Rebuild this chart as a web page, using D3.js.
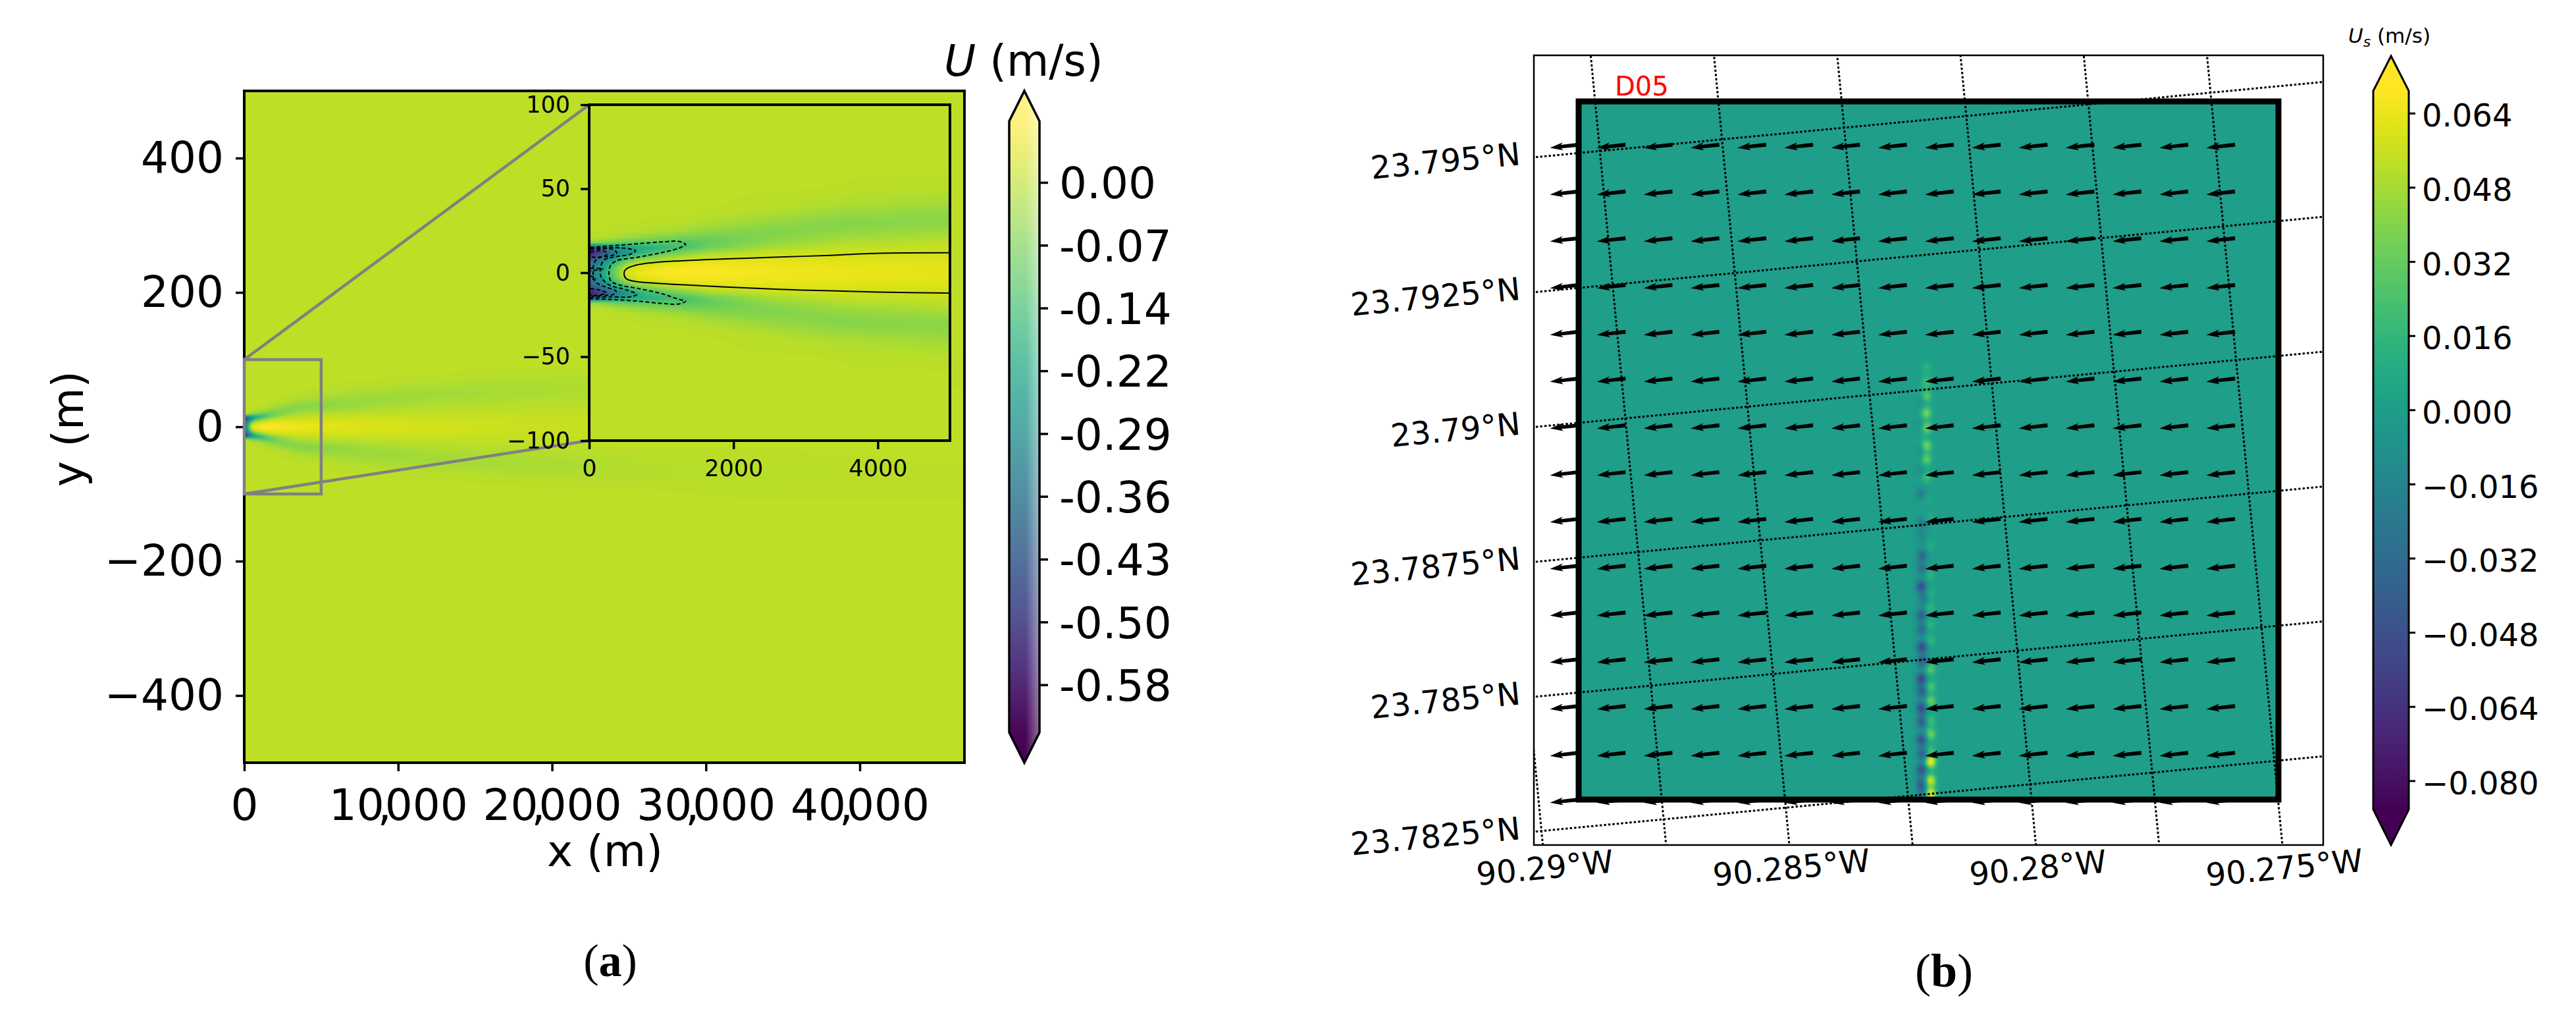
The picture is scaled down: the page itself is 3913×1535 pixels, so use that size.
<!DOCTYPE html>
<html>
<head>
<meta charset="utf-8">
<script src="https://d3js.org/d3.v7.min.js"></script>
<style>
body { margin: 0; background: white; }
text { font-family: "DejaVu Sans", sans-serif; fill: black; }
</style>
</head>
<body>
<div id="chart"></div>
<script>
// panel (a) wake field. rows follow wakeX, columns follow wakeY (|y|)
const wakeX = [0, 60, 150, 300, 500, 700, 1000, 1300, 1700, 2500, 3500, 5000, 8000, 12000, 18000, 25000, 32000, 46800];
const wakeY = [0, 3, 6, 9, 12, 15, 18, 21, 25, 30, 35, 40, 50, 60, 70, 80, 90, 100, 125];
const wakeU = [
  [-.30, -.32, -.38, -.50, -.60, -.45, -.04, -.002, 0, 0, 0, 0, 0, 0, 0, 0, 0, 0, 0],
  [-.30, -.31, -.36, -.46, -.56, -.42, -.05, -.003, 0, 0, 0, 0, 0, 0, 0, 0, 0, 0, 0],
  [-.26, -.27, -.31, -.40, -.50, -.36, -.06, -.005, 0, 0, 0, 0, 0, 0, 0, 0, 0, 0, 0],
  [-.12, -.14, -.20, -.28, -.38, -.28, -.08, -.015, -.001, 0, 0, 0, 0, 0, 0, 0, 0, 0, 0],
  [.02, 0, -.07, -.16, -.27, -.23, -.10, -.03, -.004, 0, 0, 0, 0, 0, 0, 0, 0, 0, 0],
  [.05, .04, 0, -.09, -.18, -.20, -.11, -.045, -.008, -.001, 0, 0, 0, 0, 0, 0, 0, 0, 0],
  [.065, .055, .02, -.04, -.12, -.17, -.115, -.06, -.015, -.002, 0, 0, 0, 0, 0, 0, 0, 0, 0],
  [.068, .062, .04, -.005, -.07, -.135, -.12, -.075, -.025, -.004, 0, 0, 0, 0, 0, 0, 0, 0, 0],
  [.066, .062, .046, .02, -.025, -.08, -.095, -.08, -.048, -.016, -.003, 0, 0, 0, 0, 0, 0, 0, 0],
  [.058, .055, .045, .03, .008, -.02, -.045, -.06, -.063, -.04, -.015, -.003, 0, 0, 0, 0, 0, 0, 0],
  [.05, .047, .04, .03, .017, .004, -.012, -.03, -.05, -.058, -.04, -.016, -.001, 0, 0, 0, 0, 0, 0],
  [.042, .04, .035, .026, .018, .01, .001, -.012, -.032, -.052, -.05, -.03, -.006, 0, 0, 0, 0, 0, 0],
  [.032, .031, .028, .023, .017, .011, .005, -.002, -.012, -.024, -.033, -.037, -.024, -.006, 0, 0, 0, 0, 0],
  [.023, .022, .021, .018, .015, .011, .007, .003, -.002, -.009, -.016, -.023, -.03, -.017, -.004, 0, 0, 0, 0],
  [.014, .014, .013, .012, .011, .009, .007, .004, .001, -.003, -.007, -.012, -.02, -.022, -.012, -.003, 0, 0, 0],
  [.008, .008, .007, .007, .006, .005, .004, .003, .001, 0, -.002, -.004, -.008, -.011, -.012, -.006, -.001, 0, 0],
  [.003, .003, .003, .003, .002, .002, .002, .001, 0, 0, -.001, -.001, -.002, -.004, -.005, -.005, -.002, -.001, 0],
  [.001, .001, .001, .001, .001, .001, 0, 0, 0, 0, 0, 0, 0, -.001, -.001, -.001, -.001, -.001, 0]
];

// contour lines of the inset, [x, y] in metres
const contourSolid = [[5000,11.9],[4020,11.6],[3266,10.2],[2632,9.3],[1839,8.1],[1284,7.1],[888,6],[650,4.5],[511,2.1],[484,0],[511,-3.5],[670,-5.4],[888,-6.2],[1284,-7.2],[1839,-8.4],[2632,-9.9],[3266,-10.7],[4020,-11.6],[5000,-12.2]];
const contoursDashed = [
  [[16,15],[333,16.1],[690,17.3],[1007,18.3],[1245,18.6],[1336,16.8],[1245,14.6],[1007,12],[690,9.3],[373,7],[293,4],[274,-.45],[301,-5],[412,-7.2],[690,-9.5],[1007,-12.5],[1245,-15.9],[1336,-17],[1245,-18.6],[1007,-18.3],[690,-17],[333,-16],[16,-15.5]],
  [[16,14.6],[492,14.6],[642,13],[571,11],[341,9.3],[206,7.5],[155,2.6],[166,-2.7],[274,-7.2],[511,-10.2],[658,-12.9],[571,-14.4],[293,-14.4],[16,-14.7]],
  [[16,13.8],[333,13.8],[381,11.6],[254,9.6],[115,8.6],[63,4.8],[55,-.45],[75,-5],[194,-8],[373,-11],[341,-12.9],[174,-13.5],[16,-14]],
  [[16,12.3],[194,13.1],[254,11],[135,9.3],[16,9.3]],
  [[16,-9.5],[155,-10.5],[234,-12],[115,-13.5],[16,-13.2]],
  [[16,2.6],[194,2.3],[16,1]],
  [[16,-2],[95,-3.5],[16,-4.2]]
];

const mainYTicks = [-400, -200, 0, 200, 400];
const mainXTicks = [0, 10000, 20000, 30000, 40000];
const insetYTicks = [-100, -50, 0, 50, 100];
const insetXTicks = [0, 2000, 4000];
const cbarATicks = [0, -0.0725, -0.145, -0.2175, -0.29, -0.3625, -0.435, -0.5075, -0.58];
const cbarALabels = ["0.00", "-0.07", "-0.14", "-0.22", "-0.29", "-0.36", "-0.43", "-0.50", "-0.58"];

// panel (b) map grid
const gridLats = [23.7825, 23.785, 23.7875, 23.79, 23.7925, 23.795];
const gridLatLabels = ["23.7825°N", "23.785°N", "23.7875°N", "23.79°N", "23.7925°N", "23.795°N"];
const gridLons = [90.29, 90.2875, 90.285, 90.2825, 90.28, 90.2775, 90.275];
const lonLabelled = [90.29, 90.285, 90.28, 90.275];
const lonLabels = ["90.29°W", "90.285°W", "90.28°W", "90.275°W"];
const cbarBTicks = [0.064, 0.048, 0.032, 0.016, 0, -0.016, -0.032, -0.048, -0.064, -0.08];

// quiver, tails in grid units of the D05 box (0..1000)
const quiverStations = [0, 67, 134, 201, 268, 335, 402, 469, 536, 603, 670, 737, 804, 871, 938];
const quiverU = -41;
const quiverV = -4.5;

// streak blobs along the line in D05, grid units and Us (m/s)
const streakX = [497,497,497,497,497,497,497,497,499,502,502,502,502,502,502,503,503,503,503,503,503,503,503,503,503,
  490.5,490.5,489.5,489.5,489.5,489.5,490.5,490.5,490.5,489.5,492.7,490,490,490.5,491,489.5,490.5,490,490,490,491,490,489.5,491];
const streakY = [618.7,598.1,577.6,553.8,532.7,506.7,487,462.3,431.2,403.8,362.6,321.5,294,273.5,250.6,227.7,186.6,161.4,140.8,113.4,93.7,70,54,27.4,8.2,
  570.7,536.4,499.8,472.4,438.1,394.6,376.4,349.8,331.5,305.5,287.2,264.3,243.7,218.6,198,172.9,154.6,130.8,111.1,86,65.4,42.5,22,8.2];
const streakU = [.012,.02,.03,.036,.038,.036,.03,.02,.006,.008,.008,.014,.012,.016,.014,.016,.028,.026,.034,.02,.034,.02,.066,.056,.066,
  -.01,-.01,-.01,-.01,-.02,-.024,-.012,-.032,-.028,-.05,-.024,-.04,-.032,-.05,-.04,-.052,-.04,-.052,-.04,-.048,-.04,-.048,-.04,-.025];

let svg = d3.select("#chart").append("svg")
  .attr("width", 3913)
  .attr("height", 1535)
  .style("display", "block");
let defs = svg.append("defs");

function paintField(xScale, yScale, valueAt, colour) {
  let [x0, x1] = xScale.range();
  let [y1, y0] = yScale.range();
  let w = Math.round(x1 - x0), h = Math.round(y1 - y0);
  let canvas = document.createElement("canvas");
  canvas.width = w;
  canvas.height = h;
  let ctx = canvas.getContext("2d");
  let img = ctx.createImageData(w, h);
  for (let j = 0; j < h; j++) {
    let yv = yScale.invert(y0 + j + 0.5);
    for (let i = 0; i < w; i++) {
      let c = colour(valueAt(xScale.invert(x0 + i + 0.5), yv));
      let k = (j * w + i) * 4;
      img.data[k] = c[0];
      img.data[k + 1] = c[1];
      img.data[k + 2] = c[2];
      img.data[k + 3] = 255;
    }
  }
  ctx.putImageData(img, 0, 0);
  return svg.append("image")
    .attr("x", x0).attr("y", y0).attr("width", w).attr("height", h)
    .attr("href", canvas.toDataURL());
}

function viridisLut(vmin, vmax) {
  let lut = d3.range(1024).map(i => {
    let c = d3.rgb(d3.interpolateViridis(i / 1023));
    return [c.r, c.g, c.b];
  });
  let s = d3.scaleLinear().domain([vmin, vmax]).range([0, 1023]).clamp(true);
  return v => lut[Math.round(s(v))];
}

function wakeAt(x, y) {
  let ay = Math.abs(y);
  let i = Math.min(Math.max(d3.bisectRight(wakeX, x) - 1, 0), wakeX.length - 2);
  let j = Math.min(Math.max(d3.bisectRight(wakeY, ay) - 1, 0), wakeY.length - 2);
  let fx = Math.min(Math.max((x - wakeX[i]) / (wakeX[i + 1] - wakeX[i]), 0), 1);
  let fy = Math.min(Math.max((ay - wakeY[j]) / (wakeY[j + 1] - wakeY[j]), 0), 1);
  let top = wakeU[i][j] * (1 - fx) + wakeU[i + 1][j] * fx;
  let bot = wakeU[i][j + 1] * (1 - fx) + wakeU[i + 1][j + 1] * fx;
  return top * (1 - fy) + bot * fy;
}

function styleAxis(g, fontSize, lw) {
  g.selectAll("text").style("font-size", fontSize + "px").style("font-family", '"DejaVu Sans"');
  g.selectAll("line").attr("stroke", "black").attr("stroke-width", lw);
  g.select(".domain").remove();
}

// ---------- panel (a) ----------
const uColourA = viridisLut(-0.635, 0.0707);

let x = d3.scaleLinear().domain([0, 46800]).range([371, 1465]);
let y = d3.scaleLinear().domain([-500, 500]).range([1158, 138]);

paintField(x, y, wakeAt, uColourA);

svg.append("rect")
  .attr("x", x(0)).attr("y", y(500))
  .attr("width", x(46800) - x(0)).attr("height", y(-500) - y(500))
  .attr("fill", "none").attr("stroke", "black").attr("stroke-width", 4);

let gxA = svg.append("g").attr("transform", `translate(0,${y(-500)})`)
  .call(d3.axisBottom(x).tickValues(mainXTicks).tickFormat(d3.format(",")).tickSize(13).tickPadding(27));
styleAxis(gxA, 66, 3.5);
// the comma sits tight between the digits in these labels
gxA.selectAll("text").filter(d => d >= 10000).attr("dx", "0 0 -10 -10");

let gyA = svg.append("g").attr("transform", `translate(${x(0)},0)`)
  .call(d3.axisLeft(y).tickValues(mainYTicks).tickSize(13).tickPadding(18));
styleAxis(gyA, 66, 3.5);

svg.append("text").attr("x", 919).attr("y", 1315)
  .attr("text-anchor", "middle").style("font-size", "66px").text("x (m)");
svg.append("text").attr("transform", "translate(126,651) rotate(-90)")
  .attr("text-anchor", "middle").style("font-size", "66px").text("y (m)");

// inset
let xi = d3.scaleLinear().domain([0, 5000]).range([895, 1443]);
let yi = d3.scaleLinear().domain([-100, 100]).range([669, 159]);

svg.append("rect")
  .attr("x", x(0)).attr("y", y(100))
  .attr("width", x(5000) - x(0)).attr("height", y(-100) - y(100))
  .attr("fill", "none").attr("stroke", "#808080").attr("stroke-width", 4.5);
svg.append("line")
  .attr("x1", x(0)).attr("y1", y(100)).attr("x2", xi(0)).attr("y2", yi(100))
  .attr("stroke", "#808080").attr("stroke-width", 4.5);
svg.append("line")
  .attr("x1", x(0)).attr("y1", y(-100)).attr("x2", xi(0)).attr("y2", yi(-100))
  .attr("stroke", "#808080").attr("stroke-width", 4.5);

paintField(xi, yi, wakeAt, uColourA);

let contourLine = d3.line().x(d => xi(d[0])).y(d => yi(d[1])).curve(d3.curveCatmullRom);
svg.append("path").attr("d", contourLine(contourSolid))
  .attr("fill", "none").attr("stroke", "black").attr("stroke-width", 2);
svg.selectAll("path.dashed").data(contoursDashed).enter().append("path")
  .attr("class", "dashed")
  .attr("d", contourLine)
  .attr("fill", "none").attr("stroke", "black").attr("stroke-width", 2)
  .attr("stroke-dasharray", "6 3.5");

svg.append("rect")
  .attr("x", xi(0)).attr("y", yi(100))
  .attr("width", xi(5000) - xi(0)).attr("height", yi(-100) - yi(100))
  .attr("fill", "none").attr("stroke", "black").attr("stroke-width", 4);

let gxI = svg.append("g").attr("transform", `translate(0,${yi(-100)})`)
  .call(d3.axisBottom(xi).tickValues(insetXTicks).tickFormat(d3.format("d")).tickSize(13).tickPadding(16));
styleAxis(gxI, 35, 3.5);
let gyI = svg.append("g").attr("transform", `translate(${xi(0)},0)`)
  .call(d3.axisLeft(yi).tickValues(insetYTicks).tickSize(13).tickPadding(16));
styleAxis(gyI, 35, 3.5);

function colourbar(id, xLeft, xRight, yTip, yTop, yBot, yTipBot, vmin, vmax) {
  let yBar = d3.scaleLinear().domain([vmin, vmax]).range([yBot, yTop]);
  let grad = defs.append("linearGradient").attr("id", id)
    .attr("gradientUnits", "userSpaceOnUse")
    .attr("x1", 0).attr("x2", 0).attr("y1", yBot).attr("y2", yTop);
  d3.range(0, 1.0001, 0.05).forEach(t => {
    grad.append("stop").attr("offset", t).attr("stop-color", d3.interpolateViridis(t));
  });
  let mid = (xLeft + xRight) / 2;
  let shape = [[mid, yTip], [xRight, yTop], [xRight, yBot], [mid, yTipBot], [xLeft, yBot], [xLeft, yTop]];
  let outline = d3.line().curve(d3.curveLinearClosed)(shape);
  svg.append("path").attr("d", outline).attr("fill", `url(#${id})`);
  return { yBar, outline };
}

// colour bar of (a), the picture shows it washed out to the top and on its right side
let cbA = colourbar("cbarA", 1533, 1579, 138, 184, 1112, 1158, -0.635, 0.0707);
let washV = defs.append("linearGradient").attr("id", "washV").attr("x1", 0).attr("x2", 0).attr("y1", 0).attr("y2", 1);
washV.append("stop").attr("offset", 0).attr("stop-color", "white").attr("stop-opacity", 0.45);
washV.append("stop").attr("offset", 0.45).attr("stop-color", "white").attr("stop-opacity", 0.25);
washV.append("stop").attr("offset", 1).attr("stop-color", "white").attr("stop-opacity", 0);
let washH = defs.append("linearGradient").attr("id", "washH").attr("x1", 0).attr("x2", 1).attr("y1", 0).attr("y2", 0);
washH.append("stop").attr("offset", 0.55).attr("stop-color", "white").attr("stop-opacity", 0);
washH.append("stop").attr("offset", 1).attr("stop-color", "white").attr("stop-opacity", 0.42);
svg.append("path").attr("d", cbA.outline).attr("fill", "url(#washV)");
svg.append("path").attr("d", cbA.outline).attr("fill", "url(#washH)");
svg.append("path").attr("d", cbA.outline).attr("fill", "none").attr("stroke", "black").attr("stroke-width", 3.5);

let gcA = svg.append("g").attr("transform", "translate(1579,0)")
  .call(d3.axisRight(cbA.yBar).tickValues(cbarATicks).tickFormat((d, i) => cbarALabels[i]).tickSize(13).tickPadding(17));
styleAxis(gcA, 66, 3.5);
gcA.selectAll("text").attr("dy", "0.36em");

let titleA = svg.append("text").attr("x", 1434).attr("y", 115).style("font-size", "66px");
titleA.append("tspan").style("font-style", "italic").text("U");
titleA.append("tspan").text(" (m/s)");

svg.append("text").attr("x", 927).attr("y", 1482).attr("text-anchor", "middle")
  .style("font-family", '"Liberation Serif"').style("font-size", "70px")
  .html('(<tspan style="font-weight:bold">a</tspan>)');

// ---------- panel (b) ----------
const uColourB = viridisLut(-0.0862, 0.0688);

let gridX = d3.scaleLinear().domain([0, 1000]).range([2398, 3461]);
let gridY = d3.scaleLinear().domain([0, 1000]).range([1214, 154]);

function streakAt(gx, gy) {
  if (gx < 450 || gx > 545) return 0;
  let sum = 0;
  for (let k = 0; k < streakU.length; k++) {
    let dx = (gx - streakX[k]) / 5.4;
    let dy = (gy - streakY[k]) / 6.5;
    sum += streakU[k] * Math.exp(-(dx * dx + dy * dy) / 2);
  }
  return sum;
}
paintField(gridX, gridY, streakAt, uColourB);

// quiver arrows, tail at the grid point
let tails = [];
quiverStations.forEach(gy => quiverStations.forEach(gx => tails.push([gx, gy])));
let arrowLen = Math.hypot(gridX(quiverU) - gridX(0), gridY(quiverV) - gridY(0));
let arrowShape = d3.line()([[0, -3], [-(arrowLen - 17), -2.6], [-(arrowLen - 20), -6], [-arrowLen, 0],
  [-(arrowLen - 20), 6], [-(arrowLen - 17), 2.6], [0, 3]]) + "Z";
let arrowAngle = Math.atan2(gridY(quiverV) - gridY(0), -(gridX(quiverU) - gridX(0))) * -180 / Math.PI;
svg.selectAll("path.arrow").data(tails).enter().append("path")
  .attr("class", "arrow")
  .attr("d", arrowShape)
  .attr("transform", d => `translate(${gridX(d[0])},${gridY(d[1])}) rotate(${arrowAngle})`)
  .attr("fill", "black");

// map grid. The meridians and parallels are tilted by the projection
let lonScale = d3.scaleLinear().domain([90.29, 90.275]).range([2343.6, 3467]);
let latScale = d3.scaleLinear().domain([23.7825, 23.795]).range([1262.8, 238.9]);
const tilt = 0.0955;
function project(lon, lat) {
  let xb = lonScale(lon), yl = latScale(lat);
  let py = (yl - tilt * (xb - 2330) + tilt * tilt * 1283) / (1 + tilt * tilt);
  return [xb + tilt * (py - 1283), py];
}
defs.append("clipPath").attr("id", "mapClip").append("rect")
  .attr("x", 2330).attr("y", 84).attr("width", 1199).attr("height", 1199);
let graticule = svg.append("g").attr("clip-path", "url(#mapClip)")
  .attr("fill", "none").attr("stroke", "black").attr("stroke-width", 3).attr("stroke-dasharray", "3.5 3");
gridLats.forEach(lat => {
  graticule.append("path").attr("d", d3.line()([project(90.295, lat), project(90.27, lat)]));
});
gridLons.forEach(lon => {
  graticule.append("path").attr("d", d3.line()([project(lon, 23.78), project(lon, 23.80)]));
});

svg.append("rect")
  .attr("x", gridX(0)).attr("y", gridY(1000))
  .attr("width", gridX(1000) - gridX(0)).attr("height", gridY(0) - gridY(1000))
  .attr("fill", "none").attr("stroke", "black").attr("stroke-width", 9);
svg.append("rect")
  .attr("x", 2330).attr("y", 84).attr("width", 1199).attr("height", 1199)
  .attr("fill", "none").attr("stroke", "black").attr("stroke-width", 2.5);

svg.append("text").attr("x", 2453).attr("y", 145)
  .style("font-size", "40px").style("fill", "red").text("D05");

gridLats.forEach((lat, i) => {
  svg.append("text")
    .attr("transform", `translate(2309,${latScale(lat) - 6}) rotate(-5.46)`)
    .attr("text-anchor", "end").attr("dy", "0.36em")
    .style("font-size", "48px").text(gridLatLabels[i]);
});
lonLabelled.forEach((lon, i) => {
  svg.append("text")
    .attr("transform", `translate(${lonScale(lon) + 3},1317) rotate(-5.46)`)
    .attr("text-anchor", "middle").attr("dy", "0.36em")
    .style("font-size", "48px").text(lonLabels[i]);
});

let cbB = colourbar("cbarB", 3605, 3659, 85, 138, 1229, 1283, -0.0862, 0.0688);
svg.append("path").attr("d", cbB.outline).attr("fill", "none").attr("stroke", "black").attr("stroke-width", 3);
let gcB = svg.append("g").attr("transform", "translate(3659,0)")
  .call(d3.axisRight(cbB.yBar).tickValues(cbarBTicks).tickFormat(d3.format(".3f")).tickSize(10).tickPadding(10));
styleAxis(gcB, 48, 3);
gcB.selectAll("text").attr("dy", "0.42em");

let titleB = svg.append("text").attr("x", 3567).attr("y", 65).style("font-size", "31px");
titleB.append("tspan").style("font-style", "italic").text("U");
titleB.append("tspan").attr("dy", 6).style("font-style", "italic").style("font-size", "22px").text("s");
titleB.append("tspan").attr("dy", -6).text(" (m/s)");

svg.append("text").attr("x", 2953).attr("y", 1498).attr("text-anchor", "middle")
  .style("font-family", '"Liberation Serif"').style("font-size", "72px")
  .html('(<tspan style="font-weight:bold">b</tspan>)');
</script>
</body>
</html>
